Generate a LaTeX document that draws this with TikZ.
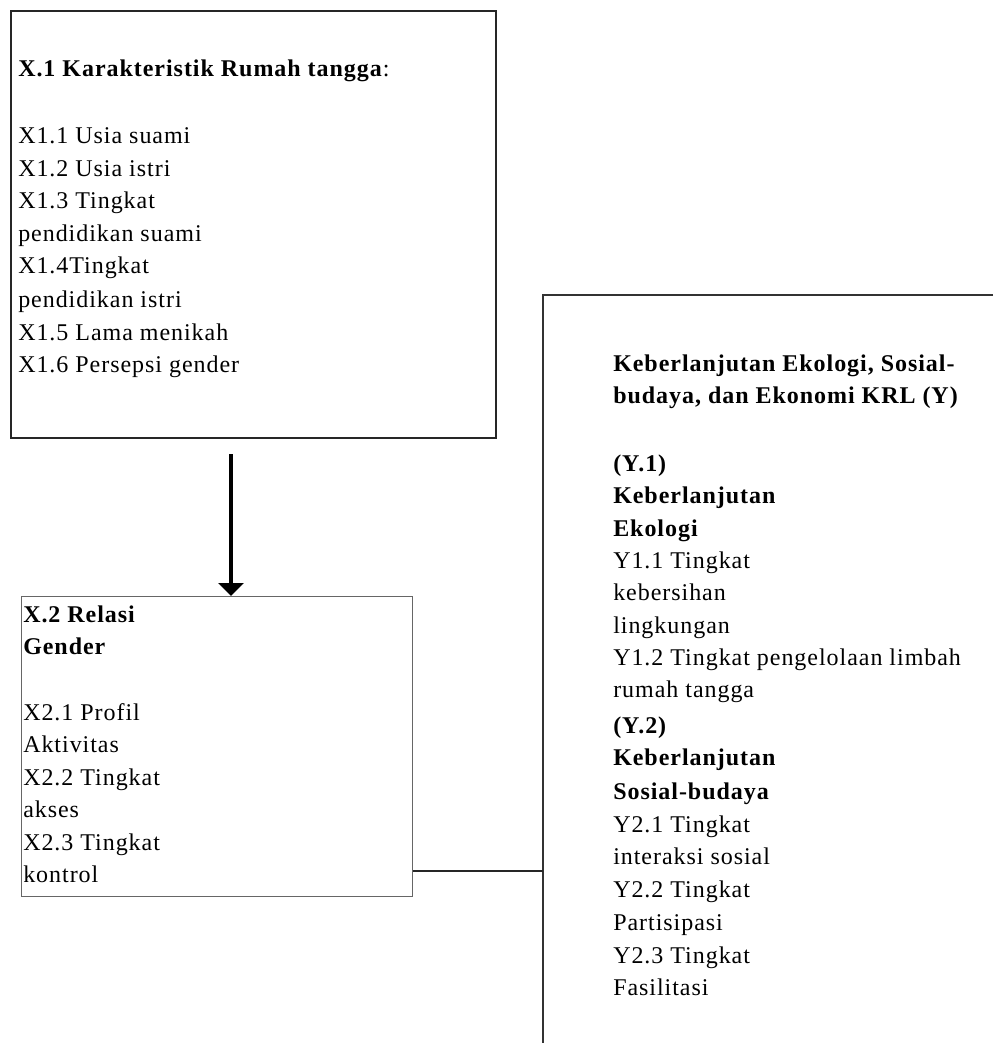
\documentclass[tikz,border=0pt]{standalone}
\usepackage{fontspec}
\setmainfont{Liberation Serif}[LetterSpace=4]
\usetikzlibrary{arrows.meta}
\tikzset{
  txt/.style={anchor=base west, inner sep=0pt, font=\fontsize{18}{24}\selectfont},
  boxA/.style={draw=black!85, line width=1.6pt, anchor=north west, inner sep=0pt},
  boxB/.style={draw=black!60, line width=0.8pt, anchor=north west, inner sep=0pt},
  openbox/.style={draw=black!80, line width=1.8pt},
  link/.style={draw=black!85, line width=1pt},
  bigarrow/.style={draw=black, line width=3pt, -{Triangle[width=18.75pt,length=9.75pt]}}
}
\begin{document}
\begin{tikzpicture}[x=0.75pt,y=-0.75pt]
\useasboundingbox (0,0) rectangle (993,1043);
% boxes
\node[boxA, minimum width=485*0.75pt, minimum height=427*0.75pt] (x1) at (10,10) {};
\node[boxB, minimum width=391*0.75pt, minimum height=300*0.75pt] (x2) at (21,596) {};
\coordinate (yTR) at (993,295);
\coordinate (yTL) at (543,295);
\coordinate (yBL) at (543,1043);
\draw[openbox] (yTR) -- (yTL) -- (yBL);
% connectors
\coordinate (aS) at (231,454);
\draw[bigarrow] (aS) -- (aS |- x2.north);
\coordinate (yC) at (543,871);
\draw[link] (x2.east |- yC) -- (yC);
% texts box X1
\foreach \y/\t [count=\i] in {
  76/{\textbf{X.1 Karakteristik Rumah tangga}:},
  143/X1.1 Usia suami,
  176/X1.2 Usia istri,
  208/X1.3 Tingkat,
  241/pendidikan suami,
  273/X1.4Tingkat,
  307/pendidikan istri,
  340/X1.5 Lama menikah,
  372/X1.6 Persepsi gender}
  \node[txt] (t1-\i) at (18,\y) {\t};
% texts box X2
\foreach \y/\t [count=\i] in {
  622/\textbf{X.2 Relasi},
  654/\textbf{Gender},
  720/X2.1 Profil,
  752/Aktivitas,
  785/X2.2 Tingkat,
  817/akses,
  850/X2.3 Tingkat,
  882/kontrol}
  \node[txt] (t2-\i) at (23,\y) {\t};
% texts box Y
\foreach \y/\t [count=\i] in {
  371/{\textbf{Keberlanjutan Ekologi, Sosial-}},
  403/{\textbf{budaya, dan Ekonomi KRL (Y)}},
  471/\textbf{(Y.1)},
  503/\textbf{Keberlanjutan},
  536/\textbf{Ekologi},
  568/Y1.1 Tingkat,
  600/kebersihan,
  633/lingkungan,
  665/Y1.2 Tingkat pengelolaan limbah,
  697/rumah tangga,
  733/\textbf{(Y.2)},
  765/\textbf{Keberlanjutan},
  799/\textbf{Sosial-budaya},
  832/Y2.1 Tingkat,
  864/interaksi sosial,
  897/Y2.2 Tingkat,
  930/Partisipasi,
  963/Y2.3 Tingkat,
  995/Fasilitasi}
  \node[txt] (t3-\i) at (613,\y) {\t};
\end{tikzpicture}
\end{document}
